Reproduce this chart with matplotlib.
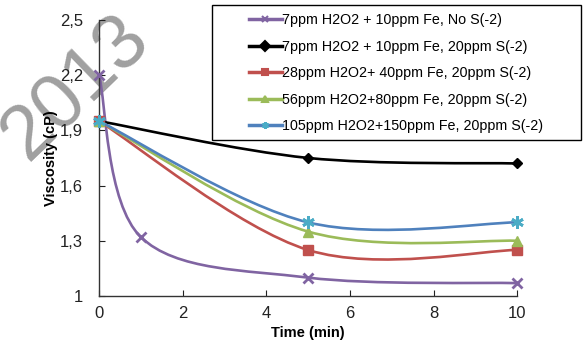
import numpy as np
import matplotlib
matplotlib.use("Agg")
import matplotlib.pyplot as plt
from matplotlib.path import Path
from matplotlib.patches import PathPatch, Rectangle
from matplotlib.lines import Line2D

plt.rcParams['font.family'] = ['Liberation Sans', 'DejaVu Sans']

labels = [
    "7ppm H2O2 + 10ppm Fe, No S(-2)",
    "7ppm H2O2 + 10ppm Fe, 20ppm S(-2)",
    "28ppm H2O2+ 40ppm Fe, 20ppm S(-2)",
    "56ppm H2O2+80ppm Fe, 20ppm S(-2)",
    "105ppm H2O2+150ppm Fe, 20ppm S(-2)",
]
time_purple = [0, 1, 5, 10]
visc_purple = [2.20, 1.32, 1.10, 1.07]
time_other = [0, 5, 10]
visc_black = [1.95, 1.75, 1.72]
visc_red = [1.95, 1.25, 1.25]
visc_green = [1.95, 1.35, 1.30]
visc_blue = [1.95, 1.40, 1.40]

x_ticks = [0, 2, 4, 6, 8, 10]
y_ticks = [1.0, 1.3, 1.6, 1.9, 2.2, 2.5]
y_tick_labels = ["1", "1,3", "1,6", "1,9", "2,2", "2,5"]

line_colors = ["#8064A2", "#000000", "#C0504D", "#9BBB59", "#4F81BD"]
marker_colors = ["#8064A2", "#000000", "#C0504D", "#9BBB59", "#4BACC6"]
markers = ["x", "D", "s", "^", (6, 2, 0)]
msizes = [7, 5, 7, 7, 9]

series = [
    (time_purple, visc_purple),
    (time_other, visc_black),
    (time_other, visc_red),
    (time_other, visc_green),
    (time_other, visc_blue),
]


def smooth_path(xs, ys):
    P = np.column_stack([xs, ys]).astype(float)
    n = len(P)
    verts = [P[0]]
    codes = [Path.MOVETO]
    for i in range(n - 1):
        p_prev = P[i - 1] if i > 0 else P[i]
        p0 = P[i]
        p1 = P[i + 1]
        p_next = P[i + 2] if i + 2 < n else P[i + 1]
        c1 = p0 + (p1 - p_prev) / 6.0
        c2 = p1 - (p_next - p0) / 6.0
        verts += [c1, c2, p1]
        codes += [Path.CURVE4] * 3
    return Path(verts, codes)


fig = plt.figure(figsize=(5.83, 3.43), dpi=100)
ax = fig.add_axes([0.170, 0.137, 0.717, 0.805])
ax.set_facecolor('none')

for (xs, ys), lc, mc, mk, ms in zip(series, line_colors, marker_colors, markers, msizes):
    ax.add_patch(PathPatch(smooth_path(xs, ys), facecolor='none', edgecolor=lc,
                           lw=1.9, zorder=2, capstyle='round'))
    ax.plot(xs, ys, linestyle='none', marker=mk, color=mc, markersize=ms,
            markeredgewidth=2 if mk in ("x",) or isinstance(mk, tuple) else 1,
            zorder=3, clip_on=False)

ax.set_xlim(0, 10)
ax.set_ylim(1.0, 2.5)
ax.set_xticks(x_ticks)
ax.set_yticks(y_ticks)
ax.set_yticklabels(y_tick_labels)
ax.spines['top'].set_visible(False)
ax.spines['right'].set_visible(False)
for s in ('left', 'bottom'):
    ax.spines[s].set_linewidth(1.0)
    ax.spines[s].set_color('#333333')
ax.tick_params(axis='both', direction='in', length=4, labelsize=12, colors='#222222')
ax.tick_params(axis='x', pad=7)
ax.tick_params(axis='y', pad=11.5)
ax.set_xlabel("Time (min)", fontsize=10.5, fontweight='bold', labelpad=3.5)
ax.set_ylabel("Viscosity (cP)", fontsize=10.5, fontweight='bold', labelpad=1.5)

# legend frame
fig.patches.append(Rectangle((212 / 583, 1 - 140 / 343), (581 - 212) / 583, 135 / 343,
                             transform=fig.transFigure, facecolor='white',
                             edgecolor='black', lw=1.0, zorder=4))

handles = [Line2D([0], [0], color=lc, lw=2.5, marker=mk, markerfacecolor=mc,
                  markeredgecolor=mc, markersize=5,
                  markeredgewidth=1.5)
           for lc, mc, mk in zip(line_colors, marker_colors, markers)]
leg = fig.legend(handles, labels, loc='upper left',
                 bbox_to_anchor=(249 / 583, 1 - 13 / 343),
                 frameon=False, fontsize=10.3,
                 handlelength=2.3, handletextpad=0.0, borderpad=0,
                 labelspacing=0.88, borderaxespad=0)
leg.set_zorder(5)

fig.text(75 / 583, 1 - 88 / 343, "2013", fontsize=56, color='#a0a0a0',
         rotation=44, ha='center', va='center', zorder=-1)

fig.savefig("out.png", dpi=100)
